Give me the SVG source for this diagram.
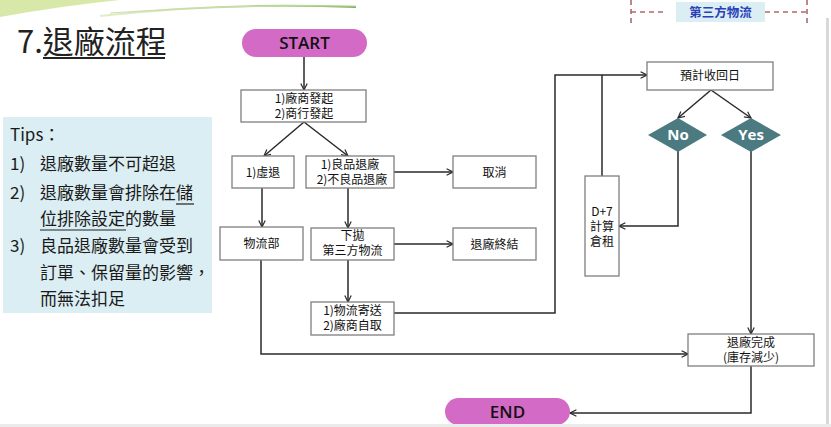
<svg xmlns="http://www.w3.org/2000/svg" width="831" height="427" viewBox="0 0 831 427">
<style>
.box{fill:#fff;stroke:#7f7f7f;stroke-width:1.3}
.t{font-family:"Noto Sans CJK TC","Noto Sans",sans-serif;font-size:12px;fill:#111;text-anchor:middle}
.tip{font-family:"Noto Sans CJK TC","Noto Sans",sans-serif;font-size:17px;fill:#1a1a1a}
.pill{fill:#d36ac5}
.pt{font-family:"Open Sans","Noto Sans",sans-serif;font-size:17px;font-weight:600;fill:#111;text-anchor:middle}
.dia{fill:#4b7a80}
.dt{font-family:"Open Sans","Noto Sans",sans-serif;font-size:15px;font-weight:700;fill:#fff;text-anchor:middle}
.c{fill:none;stroke:#2a2a2a;stroke-width:1.5}
.dash{fill:none;stroke:#b06a6a;stroke-width:1.6;stroke-dasharray:5 4}
</style>
<defs>
<marker id="ah" viewBox="0 0 10 10" refX="9" refY="5" markerWidth="8" markerHeight="8" markerUnits="userSpaceOnUse" orient="auto">
<path d="M1,1 L9,5 L1,9" fill="none" stroke="#2a2a2a" stroke-width="1.5"/>
</marker>
<linearGradient id="gl" x1="0" x2="1" y1="0" y2="0">
<stop offset="0" stop-color="#e2eec6"/>
<stop offset="0.6" stop-color="#b9d68e"/>
<stop offset="1" stop-color="#7fae55"/>
</linearGradient>
</defs>
<rect x="0" y="0" width="831" height="427" fill="#fff"/>
<!-- decoration -->
<path d="M0,0 L120,0 Q60,6 0,17 Z" fill="#d7e8a8"/>
<path d="M100,16 Q220,2 356,7" fill="none" stroke="url(#gl)" stroke-width="2"/>
<path d="M110,13 Q230,4 356,6" fill="none" stroke="#c9deb0" stroke-width="1"/>
<rect x="826" y="18" width="3" height="409" fill="#d9d9d9"/>
<!-- title -->
<g id="title">
<text x="17" y="53" style="font-family:'Noto Sans CJK TC','Noto Sans',sans-serif;font-size:31px;fill:#222">7.退廠流程</text>
<line x1="43" y1="58" x2="165" y2="58" stroke="#222" stroke-width="1.8"/>
</g>
<!-- third party label -->
<g id="thirdparty">
<line class="dash" x1="631" y1="0" x2="631" y2="25"/>
<line class="dash" x1="807" y1="0" x2="807" y2="25"/>
<line class="dash" x1="631" y1="12" x2="664" y2="12"/>
<line class="dash" x1="765" y1="12" x2="807" y2="12"/>
<rect x="676" y="2" width="89" height="20" fill="#daeef3"/>
<text x="720.5" y="17" style="font-family:'Noto Sans CJK TC',sans-serif;font-size:12.5px;font-weight:700;fill:#2a3fb8;text-anchor:middle">第三方物流</text>
</g>
<!-- tips -->
<g id="tips">
<rect x="3" y="117" width="209" height="196" fill="#daeef3"/>
<text class="tip" x="10" y="141">Tips：</text>
<text class="tip" x="10" y="170">1)</text><text class="tip" x="40" y="170">退廠數量不可超退</text>
<text class="tip" x="10" y="199">2)</text><text class="tip" x="40" y="199">退廠數量會排除在儲</text>
<line x1="176" y1="204" x2="194" y2="204" stroke="#222" stroke-width="1.2"/>
<text class="tip" x="40" y="225">位排除設定的數量</text>
<line x1="40" y1="230" x2="126" y2="230" stroke="#222" stroke-width="1.2"/>
<text class="tip" x="10" y="252">3)</text><text class="tip" x="40" y="252">良品退廠數量會受到</text>
<text class="tip" x="40" y="279">訂單、保留量的影響，</text>
<text class="tip" x="40" y="305">而無法扣足</text>
</g>
<!-- connectors -->
<g id="connectors">
<line class="c" x1="304" y1="57" x2="304" y2="90" marker-end="url(#ah)"/>
<line class="c" x1="304" y1="122" x2="264" y2="156" marker-end="url(#ah)"/>
<line class="c" x1="304" y1="122" x2="348" y2="156" marker-end="url(#ah)"/>
<line class="c" x1="394" y1="172" x2="453" y2="172" marker-end="url(#ah)"/>
<line class="c" x1="262" y1="188" x2="262" y2="227" marker-end="url(#ah)"/>
<line class="c" x1="348" y1="188" x2="348" y2="228" marker-end="url(#ah)"/>
<line class="c" x1="394" y1="244" x2="453" y2="244" marker-end="url(#ah)"/>
<line class="c" x1="348" y1="260" x2="348" y2="302" marker-end="url(#ah)"/>
<polyline class="c" points="394,313 555,313 555,75 647,75" marker-end="url(#ah)"/>
<line class="c" x1="602" y1="176" x2="602" y2="75"/>
<line class="c" x1="711" y1="90" x2="678" y2="118" marker-end="url(#ah)"/>
<line class="c" x1="711" y1="90" x2="751" y2="118" marker-end="url(#ah)"/>
<polyline class="c" points="678,151 678,226 619,226" marker-end="url(#ah)"/>
<line class="c" x1="751" y1="151" x2="751" y2="334" marker-end="url(#ah)"/>
<polyline class="c" points="261,260 261,354 688,354" marker-end="url(#ah)"/>
<polyline class="c" points="751,366 751,413 570,413" marker-end="url(#ah)"/>
</g>
<!-- nodes -->
<g id="start"><rect class="pill" x="242" y="29" width="125" height="28" rx="14"/><text class="pt" x="304.5" y="49">START</text></g>
<g id="initiate"><rect class="box" x="241" y="90" width="125" height="32"/><text class="t"><tspan x="304" y="103">1)廠商發起</tspan><tspan x="304" y="118">2)商行發起</tspan></text></g>
<g id="virtual"><rect class="box" x="232" y="156" width="62" height="32"/><text class="t" x="263" y="177">1)虛退</text></g>
<g id="goods"><rect class="box" x="306" y="156" width="88" height="32"/><text class="t"><tspan x="350" y="169">1)良品退廠</tspan><tspan x="352" y="184">2)不良品退廠</tspan></text></g>
<g id="cancel"><rect class="box" x="453" y="156" width="83" height="32"/><text class="t" x="494.5" y="177">取消</text></g>
<g id="logistics"><rect class="box" x="220" y="227" width="83" height="33"/><text class="t" x="261.5" y="248">物流部</text></g>
<g id="dispatch"><rect class="box" x="311" y="228" width="83" height="32"/><text class="t"><tspan x="352.5" y="240">下拋</tspan><tspan x="352.5" y="255">第三方物流</tspan></text></g>
<g id="finish"><rect class="box" x="453" y="228" width="83" height="32"/><text class="t" x="494.5" y="249">退廠終結</text></g>
<g id="ship"><rect class="box" x="311" y="302" width="83" height="33"/><text class="t"><tspan x="352.5" y="315">1)物流寄送</tspan><tspan x="352.5" y="330">2)廠商自取</tspan></text></g>
<g id="expect"><rect class="box" x="647" y="62" width="126" height="28"/><text class="t" x="710" y="80">預計收回日</text></g>
<g id="no"><polygon class="dia" points="648,135 678,118 707,135 678,152"/><text class="dt" x="678" y="140">No</text></g>
<g id="yes"><polygon class="dia" points="721,135 751,118 781,135 751,152"/><text class="dt" x="751" y="140">Yes</text></g>
<g id="rent"><rect class="box" x="585" y="176" width="34" height="100"/><text class="t"><tspan x="602" y="216">D+7</tspan><tspan x="602" y="231">計算</tspan><tspan x="602" y="246">倉租</tspan></text></g>
<g id="done"><rect class="box" x="688" y="334" width="126" height="32"/><text class="t"><tspan x="751" y="347">退廠完成</tspan><tspan x="751" y="362">(庫存減少)</tspan></text></g>
<g id="end"><rect class="pill" x="445" y="398" width="125" height="27" rx="13.5"/><text class="pt" x="507.5" y="418">END</text></g>
<text x="-1" y="434" style="font-family:'Liberation Sans',sans-serif;font-size:14px;fill:#222">12</text>
<rect x="0" y="424" width="831" height="3" fill="#ebebeb"/>
</svg>
